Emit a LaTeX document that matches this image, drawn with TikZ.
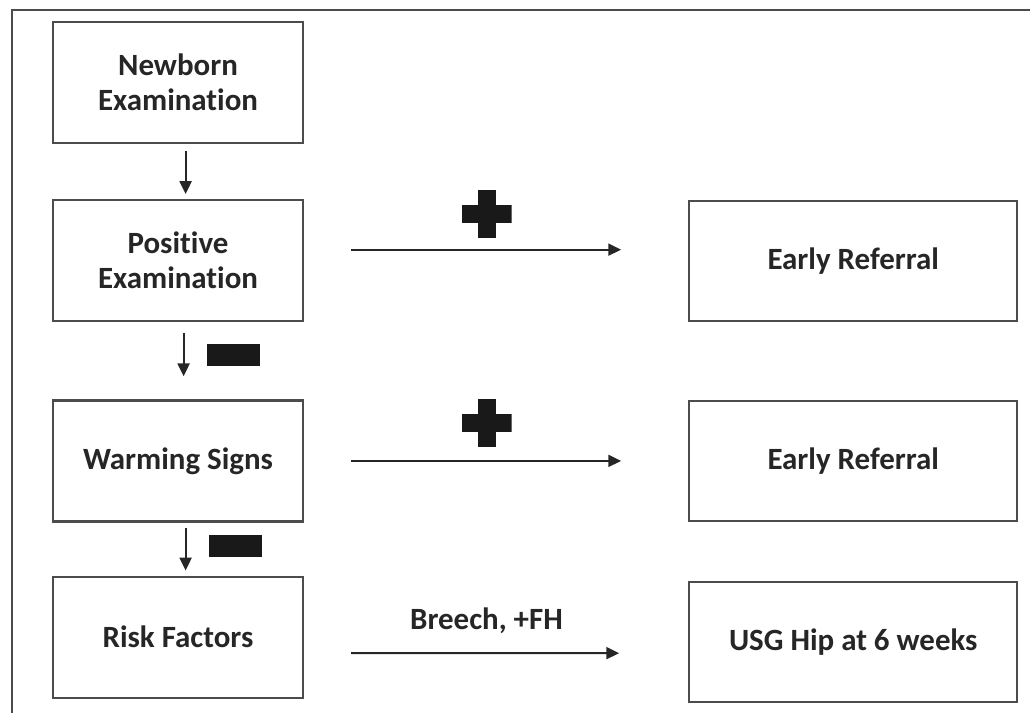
\documentclass[tikz,border=0pt]{standalone}
\usepackage{fontspec}
\setmainfont{Carlito}[Ligatures={NoCommon,NoRequired,NoContextual}, Contextuals=NoAlternate]
\usetikzlibrary{arrows.meta,positioning,calc}

\begin{document}
\begin{tikzpicture}[
  box/.style={rectangle, draw=black!70, line width=1.6pt, align=center, minimum width=6.25cm, minimum height=3.025cm, text=black!85, font=\fontsize{22}{25}\selectfont\bfseries},
  outbox/.style={box, minimum width=8.2cm, minimum height=3cm},
  arrow/.style={-{Triangle[length=0.32cm, width=0.3cm]}, line width=1.3pt, draw=black!85},
  frame/.style={draw=black!70, line width=1.8pt},
  plussign/.style={rectangle, minimum width=1.25cm, minimum height=1.2cm, inner sep=0pt, outer sep=0pt, path picture={
    \fill[black!90] ([xshift=-0.225cm]path picture bounding box.south) rectangle ([xshift=0.225cm]path picture bounding box.north);
    \fill[black!90] ([yshift=-0.225cm]path picture bounding box.west) rectangle ([yshift=0.225cm]path picture bounding box.east);}},
  minussign/.style={rectangle, fill=black!90, minimum width=1.325cm, minimum height=0.55cm, inner sep=0pt, outer sep=0pt},
  edgelabel/.style={text=black!85, font=\fontsize{22}{25}\selectfont\bfseries}
]
\useasboundingbox (0,0) rectangle (25.75,-17.8);
\draw[frame] (0.3,-18.2) |- (26.2,-0.25);

\node[box] (s1) at (4.45,-2.06) {Newborn\\Examination};
\node[box, below=1.375cm of s1] (s2) {Positive\\Examination};
\node[box, below=1.925cm of s2] (s3) {Warming Signs};
\node[box, below=1.325cm of s3] (s4) {Risk Factors};
\node[outbox, right=9.6cm of s2] (r1) {Early Referral};
\node[outbox, right=9.6cm of s3] (r2) {Early Referral};
\node[outbox, right=9.6cm of s4, yshift=-0.125cm] (r3) {USG Hip at 6 weeks};

\draw[arrow, shorten <=0.175cm, shorten >=0.125cm] ([xshift=0.19cm]s1.south) -- ([xshift=0.19cm]s2.north);
\draw[arrow, shorten <=0.275cm, shorten >=0.575cm] ([xshift=0.14cm]s2.south) -- ([xshift=0.14cm]s3.north)
  node[minussign, pos=0.43, right=0.575cm] (m1) {};
\draw[arrow, shorten <=0.125cm, shorten >=0.125cm] ([xshift=0.19cm]s3.south) -- ([xshift=0.19cm]s4.north)
  node[minussign, pos=0.44, right=0.575cm] (m2) {};

\draw[arrow, shorten <=1.175cm, shorten >=1.675cm] ([yshift=0.275cm]s2.east) -- ([yshift=0.275cm]r1.west)
  node[plussign, pos=0.475, above=0.3cm] (p1) {};
\draw[arrow, shorten <=1.175cm, shorten >=1.675cm] (s3.east) -- (r2.west)
  node[plussign, pos=0.475, above=0.35cm] (p2) {};
\draw[arrow, shorten <=1.175cm, shorten >=1.725cm] ([yshift=-0.4cm]s4.east) -- ([yshift=-0.275cm]r3.west)
  node[edgelabel, pos=0.475, above=0.35cm] (l1) {Breech, +FH};
\end{tikzpicture}
\end{document}
